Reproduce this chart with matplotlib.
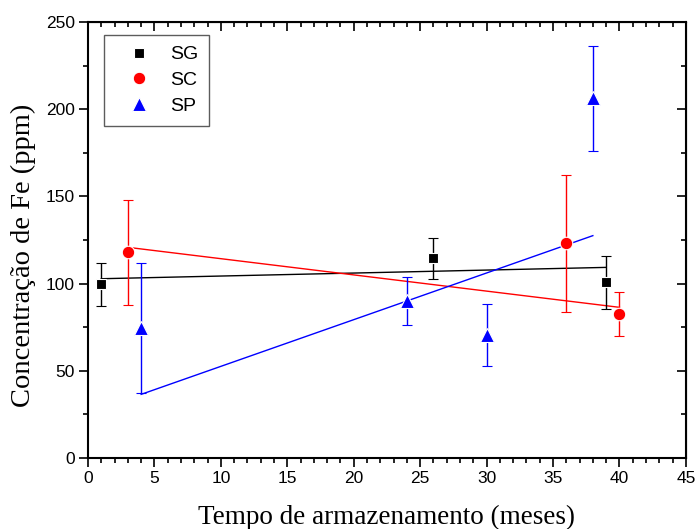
import matplotlib
matplotlib.use("Agg")
import matplotlib.pyplot as plt
from matplotlib.ticker import MultipleLocator
from matplotlib.lines import Line2D

# Data
sg_x = [1, 26, 39]
sg_y = [99.6, 114.5, 100.7]
sg_err = [12.5, 11.7, 15.0]
sg_fit_x = [1, 39]
sg_fit_y = [102.8, 109.3]

sc_x = [3, 36, 40]
sc_y = [118.0, 123.0, 82.6]
sc_err = [30.0, 39.5, 12.5]
sc_fit_x = [3, 40]
sc_fit_y = [120.8, 86.4]

sp_x = [4, 24, 30, 38]
sp_y = [74.5, 90.0, 70.5, 206.2]
sp_err = [37.5, 14.0, 18.0, 30.0]
sp_fit_x = [4, 38]
sp_fit_y = [36.5, 127.5]

xticks = [0, 5, 10, 15, 20, 25, 30, 35, 40, 45]
yticks = [0, 50, 100, 150, 200, 250]

fig = plt.figure(figsize=(6.97, 5.29), dpi=100)
ax = fig.add_axes([0.1263, 0.1342, 0.984 - 0.1263, 0.9584 - 0.1342])

series = [
    ("SG", sg_x, sg_y, sg_err, sg_fit_x, sg_fit_y, "black", "s", 7.5),
    ("SC", sc_x, sc_y, sc_err, sc_fit_x, sc_fit_y, "red", "o", 9),
    ("SP", sp_x, sp_y, sp_err, sp_fit_x, sp_fit_y, "blue", "^", 9.5),
]
for name, x, y, e, fx, fy, c, m, ms in series:
    ax.plot(fx, fy, color=c, lw=1.0, zorder=2)
handles = []
for name, x, y, e, fx, fy, c, m, ms in series:
    ax.errorbar(x, y, yerr=e, fmt=m, color=c, ecolor=c, elinewidth=1.0,
                capsize=3.8, capthick=1.0, markersize=ms, markeredgecolor="white",
                markeredgewidth=0.8, zorder=3)
    handles.append(Line2D([], [], ls="none", marker=m, color=c, markersize=ms,
                          markeredgecolor="white", markeredgewidth=0.8, label=name))

ax.set_xlim(0, 45)
ax.set_ylim(0, 250)
ax.set_xticks(xticks)
ax.set_yticks(yticks)
ax.xaxis.set_minor_locator(MultipleLocator(1))
ax.yaxis.set_minor_locator(MultipleLocator(25))

for sp in ax.spines.values():
    sp.set_linewidth(1.5)

ax.tick_params(axis="both", which="both", direction="out", top=False, right=False,
               labelsize=12.5, width=1.2, pad=3)
ax.tick_params(which="major", length=6.5)
ax.tick_params(which="minor", length=3.5)
for lab in ax.get_xticklabels() + ax.get_yticklabels():
    lab.set_fontfamily("Liberation Sans")

# mirrored inward ticks on top/right
axt = ax.secondary_xaxis("top")
axt.set_xticks(xticks)
axt.xaxis.set_minor_locator(MultipleLocator(1))
axt.tick_params(which="both", direction="in", labeltop=False, width=1.2)
axt.tick_params(which="major", length=6.5)
axt.tick_params(which="minor", length=3.5)
axr = ax.secondary_yaxis("right")
axr.set_yticks(yticks)
axr.yaxis.set_minor_locator(MultipleLocator(25))
axr.tick_params(which="both", direction="in", labelright=False, width=1.2)
axr.tick_params(which="major", length=6.5)
axr.tick_params(which="minor", length=3.5)

ax.set_xlabel("Tempo de armazenamento (meses)", fontfamily="Liberation Serif",
              fontsize=19.5, labelpad=13.5)
ax.set_ylabel("Concentração de Fe (ppm)", fontfamily="Liberation Serif",
              fontsize=20.5)
ax.yaxis.set_label_coords(-0.087, 0.4645)

leg = ax.legend(handles=handles, loc="upper left", bbox_to_anchor=(0.0268, 0.970),
                borderaxespad=0, frameon=True, fancybox=False, edgecolor="#333333",
                prop={"family": "Liberation Sans", "size": 14},
                handletextpad=0.35, borderpad=0.55, labelspacing=0.42, handlelength=2.5)
leg.get_frame().set_linewidth(1.0)

fig.savefig("out.png", dpi=100)
